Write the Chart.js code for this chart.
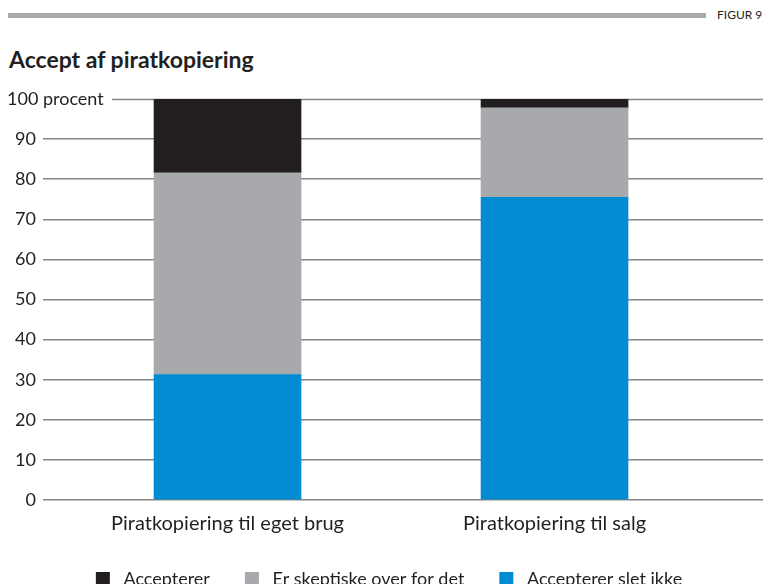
<!DOCTYPE html>
<html>
<head>
<meta charset="utf-8">
<script src="https://cdn.jsdelivr.net/npm/chart.js@4/dist/chart.umd.min.js"></script>
<style>
  html, body { margin: 0; padding: 0; background: #fff; overflow: hidden; }
  body { width: 763px; height: 584px; position: relative; font-family: Lato, "Open Sans", sans-serif; color: #231f20; }
  #topbar { position: absolute; left: 8px; top: 13px; width: 698px; height: 5px; background: #a7a9ac; }
  #figur { position: absolute; left: 717px; top: 7px; font-size: 12px; white-space: nowrap; }
  #title { position: absolute; left: 9px; top: 45px; font-size: 23px; font-weight: bold; white-space: nowrap; }
  #wrap { position: absolute; left: 0; top: 0; width: 763px; height: 598px; }
</style>
</head>
<body>
<div id="topbar"></div>
<div id="figur">FIGUR 9</div>
<div id="title">Accept af piratkopiering</div>
<div id="wrap"><canvas id="chart"></canvas></div>
<script>
/* ── data ───────────────────────────────────────────────────── */
const categories   = ["Piratkopiering til eget brug", "Piratkopiering til salg"];
const acceptNot    = [31.3, 75.5];   // Accepterer slet ikke
const skeptical    = [50.3, 22.3];   // Er skeptiske over for det
const accept       = [18.4, 2.2];    // Accepterer
const yTicks       = [0, 10, 20, 30, 40, 50, 60, 70, 80, 90, 100];

const ink  = "#231f20";
const grid = "#868686";

function points(values) {
    return values.map((v, i) => ({ x: i, y: v }));
}

/* ── top gridline with the "100 procent" label ─────────────── */
const topLine = {
    id: "topLine",
    beforeDatasetsDraw(chart) {
        const { ctx, chartArea, scales } = chart;
        const y = Math.round(scales.y.getPixelForValue(100)) + 0.5;
        ctx.save();
        ctx.strokeStyle = grid;
        ctx.lineWidth = 1.5;
        ctx.beginPath();
        ctx.moveTo(112, y);
        ctx.lineTo(chartArea.right, y);
        ctx.stroke();
        ctx.fillStyle = ink;
        ctx.font = "18px Lato";
        ctx.textBaseline = "middle";
        ctx.textAlign = "left";
        ctx.fillText("100 procent", 7, y);
        ctx.restore();
    }
};

new Chart(document.getElementById("chart"), {
    type: "bar",
    data: {
        datasets: [
            { label: "Accepterer slet ikke",      data: points(acceptNot), backgroundColor: "#008bd2" },
            { label: "Er skeptiske over for det", data: points(skeptical), backgroundColor: "#a7a9ac" },
            { label: "Accepterer",                data: points(accept),    backgroundColor: ink }
        ]
    },
    options: {
        responsive: true,
        maintainAspectRatio: false,
        animation: false,
        barThickness: 147,
        // left padding nudges the centred legend right; y axis width compensates
        layout: { padding: { top: 99, left: 15, right: 0, bottom: 0 } },
        plugins: {
            tooltip: { enabled: false },
            legend: {
                position: "bottom",
                reverse: true,
                labels: {
                    color: ink,
                    font: { family: "Lato", size: 18 },
                    boxWidth: 14,
                    boxHeight: 14,
                    padding: 35,
                    generateLabels: chart => {
                        const items = Chart.defaults.plugins.legend.labels.generateLabels(chart);
                        items.forEach(it => { it.text = " " + it.text; });
                        return items;
                    }
                }
            }
        },
        scales: {
            x: {
                type: "linear",
                stacked: true,
                bounds: "data",
                offset: false,
                min: -0.5643,
                max: 1.6375,
                grid: { display: false, drawTicks: false },
                border: { display: false },
                afterBuildTicks: s => { s.ticks = categories.map((c, i) => ({ value: i })); },
                afterFit: s => { s.height = 35; },
                ticks: {
                    color: ink,
                    padding: 14,
                    maxRotation: 0,
                    autoSkip: false,
                    font: { family: "Lato", size: 20, lineHeight: 1 },
                    callback: v => categories[v]
                }
            },
            y: {
                stacked: true,
                min: 0,
                max: 100,
                afterBuildTicks: s => { s.ticks = yTicks.map(v => ({ value: v })); },
                afterFit: s => { s.width = 28; },
                border: { display: false },
                grid: {
                    drawTicks: false,
                    lineWidth: 1.5,
                    color: c => (c.tick && c.tick.value === 100 ? "rgba(0,0,0,0)" : grid)
                },
                ticks: {
                    color: ink,
                    padding: 7,
                    font: { family: "Lato", size: 18 },
                    callback: v => (v === 100 ? "" : v)
                }
            }
        }
    },
    plugins: [topLine]
});
</script>
</body>
</html>
